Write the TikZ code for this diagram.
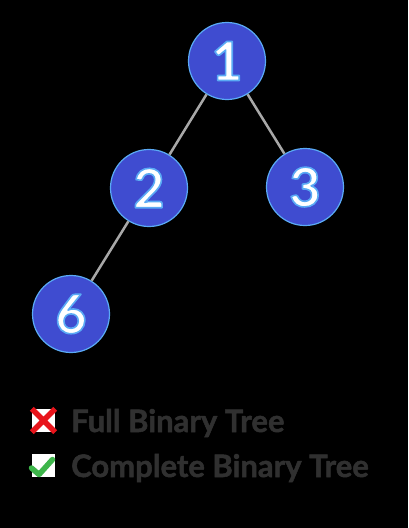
\documentclass[tikz,border=0pt]{standalone}
\usepackage{fontspec}
\setmainfont{Lato}
\newfontfamily\heavyfont{Lato}[BoldFeatures={FakeBold=1.6}]
\usetikzlibrary{positioning}
\definecolor{bg}{HTML}{000000}
\definecolor{nodefill}{HTML}{3F4CD0}
\definecolor{ring}{HTML}{5AAAF5}
\definecolor{edgegray}{HTML}{A8A8A8}
\definecolor{labelgray}{HTML}{303030}
\definecolor{crossred}{HTML}{E8141B}
\definecolor{tickgreen}{HTML}{3DB54A}
% outlined white digit
\newcommand{\ringed}[1]{\special{pdf:code 1 g 0.353 0.667 0.961 RG 1.6 w 1 j 2 Tr}#1\special{pdf:code 0 Tr}}
\tikzset{
  vertex/.style={circle, draw=ring, line width=1.2pt, fill=nodefill, minimum size=77pt,
                 inner sep=0pt, font=\fontsize{54}{54}\selectfont\bfseries, text=white},
  link/.style={draw=edgegray, line width=2.5pt},
  iconbox/.style={fill=white, minimum size=23pt, inner sep=0pt},
  legend/.style={anchor=base west, inner sep=0pt, text=labelgray,
                 font=\fontsize{31}{31}\selectfont\heavyfont\bfseries},
}

\begin{document}
\begin{tikzpicture}[x=1pt, y=-1pt]
  \fill[bg] (0,0) rectangle (408,528);
  \useasboundingbox (0,0) rectangle (408,528);
  % tree
  \node[vertex] (n1) at (227,61) {\ringed{1}};
  \node[vertex] (n2) at (149,188) {\ringed{2}};
  \node[vertex] (n3) at (305,187) {\ringed{3}};
  \node[vertex] (n6) at (71,314) {\ringed{6}};
  \draw[link] (n1) -- (n2);
  \draw[link] (n1) -- (n3);
  \draw[link] (n2) -- (n6);
  % legend
  \node[iconbox] (no) at (43.5,420.5) {};
  \draw[crossred, line width=5.5pt] (no.north west) -- (no.south east)
                                    (no.north east) -- (no.south west);
  \node[iconbox] (yes) at (43.5,465.5) {};
  \draw[tickgreen, line width=5.5pt, line cap=round, line join=round]
    ([shift={(-12,2.5)}]yes.center) -- ([shift={(-4.5,9)}]yes.center)
    -- ([shift={(9,-6)}]yes.center);
  \node[legend] (full) at (71,432) {Full Binary Tree};
  \node[legend] (complete) at (71,477) {Complete Binary Tree};
\end{tikzpicture}
\end{document}
